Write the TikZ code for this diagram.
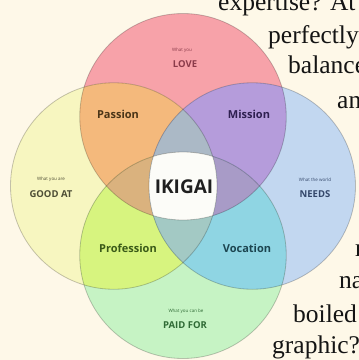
\documentclass[tikz,border=0pt]{standalone}
\usepackage{fontspec}
\newfontfamily\labfont{Open Sans}
\newfontfamily\prosefont{Liberation Serif}
\definecolor{bgc}{HTML}{FEF8E8}
\definecolor{pinkc}{HTML}{F7A2A9}
\definecolor{yellowc}{HTML}{F7F6C0}
\definecolor{bluec}{HTML}{C2D7F0}
\definecolor{greenc}{HTML}{C6F3C4}
\definecolor{passionc}{HTML}{F4B97C}
\definecolor{missionc}{HTML}{B59CDB}
\definecolor{professionc}{HTML}{D7F47F}
\definecolor{vocationc}{HTML}{8FD5E3}
\definecolor{topc}{HTML}{ABB9C6}
\definecolor{leftc}{HTML}{DAB27E}
\definecolor{rightc}{HTML}{A89BC7}
\definecolor{bottomc}{HTML}{A3C9C4}
\definecolor{ikic}{HTML}{FCFCF8}
\definecolor{lovetxt}{HTML}{8A3B4A}
\definecolor{goodtxt}{HTML}{4D4D35}
\definecolor{needtxt}{HTML}{34476A}
\definecolor{paidtxt}{HTML}{2F6A35}
\definecolor{passtxt}{HTML}{4A3518}
\definecolor{misstxt}{HTML}{2E2050}
\definecolor{proftxt}{HTML}{3A5A18}
\definecolor{voctxt}{HTML}{1C4550}
\begin{document}
\begin{tikzpicture}[x=1pt,y=-1pt,
  edge/.style={draw=black,draw opacity=0.22,line width=0.8pt},
  region/.style={font=\labfont\bfseries\fontsize{11}{11}\selectfont,inner sep=0pt},
  bigcap/.style={font=\labfont\bfseries\fontsize{9.5}{9.5}\selectfont,inner sep=0pt},
  smallcap/.style={font=\labfont\fontsize{4.5}{4.5}\selectfont,inner sep=0pt},
  prose/.style={font=\prosefont\fontsize{25.5}{25.5}\selectfont,anchor=base west,inner sep=0pt,text=black!92}]
\def\R{103.25pt}
\useasboundingbox (0,0) rectangle (359,360);
\fill[bgc] (0,0) rectangle (359,360);
\coordinate (cP) at (183,116.75);
\coordinate (cY) at (113.75,186);
\coordinate (cB) at (252.25,186);
\coordinate (cG) at (183,255.25);
% single circles
\fill[pinkc] (cP) circle[radius=\R];
\fill[yellowc] (cY) circle[radius=\R];
\fill[bluec] (cB) circle[radius=\R];
\fill[greenc] (cG) circle[radius=\R];
% pairs
\begin{scope}
  \clip (cP) circle[radius=\R];
  \fill[passionc] (cY) circle[radius=\R];
  \fill[missionc] (cB) circle[radius=\R];
\end{scope}
\begin{scope}
  \clip (cG) circle[radius=\R];
  \fill[professionc] (cY) circle[radius=\R];
  \fill[vocationc] (cB) circle[radius=\R];
\end{scope}
% triples
\begin{scope}
  \clip (cP) circle[radius=\R];
  \clip (cY) circle[radius=\R];
  \fill[topc] (cB) circle[radius=\R];
  \fill[leftc] (cG) circle[radius=\R];
\end{scope}
\begin{scope}
  \clip (cB) circle[radius=\R];
  \clip (cG) circle[radius=\R];
  \fill[rightc] (cP) circle[radius=\R];
  \fill[bottomc] (cY) circle[radius=\R];
\end{scope}
% all four
\begin{scope}
  \clip (cP) circle[radius=\R];
  \clip (cY) circle[radius=\R];
  \clip (cB) circle[radius=\R];
  \fill[ikic] (cG) circle[radius=\R];
\end{scope}
% outlines
\foreach \c in {cP,cY,cB,cG} \draw[edge] (\c) circle[radius=\R];
% labels
\node[smallcap,text=lovetxt] (lovea) at (182,50) {What you};
\node[bigcap,text=lovetxt] (loveb) at (185,64) {LOVE};
\node[smallcap,text=goodtxt] (gooda) at (51,179.5) {What you are};
\node[bigcap,text=goodtxt] (goodb) at (51,194) {GOOD AT};
\node[smallcap,text=needtxt] (needa) at (315,179.5) {What the world};
\node[bigcap,text=needtxt] (needb) at (315,194) {NEEDS};
\node[smallcap,text=paidtxt] (paida) at (186,311) {What you can be};
\node[bigcap,text=paidtxt] (paidb) at (185,325.5) {PAID FOR};
\node[region,text=passtxt] (passion) at (118,114.5) {Passion};
\node[region,text=misstxt] (mission) at (249,114.5) {Mission};
\node[region,text=proftxt] (profession) at (128,248) {Profession};
\node[region,text=voctxt] (vocation) at (247,248) {Vocation};
\node[font=\labfont\bfseries\fontsize{19}{19}\selectfont,text=black!88,inner sep=0pt] (ikigai) at (184,187) {IKIGAI};
% surrounding prose
\node[prose] (t1) at (218,10) {expertise? At};
\node[prose] (t2) at (268,43) {perfectly};
\node[prose] (t3) at (288,73) {balance};
\node[prose] (t4) at (337,108) {an};
\node[prose] (t8) at (355,256) {r};
\node[prose] (t5) at (339,288) {na};
\node[prose] (t6) at (293,322) {boiled};
\node[prose] (t7) at (272,353) {graphic?};
\end{tikzpicture}
\end{document}
